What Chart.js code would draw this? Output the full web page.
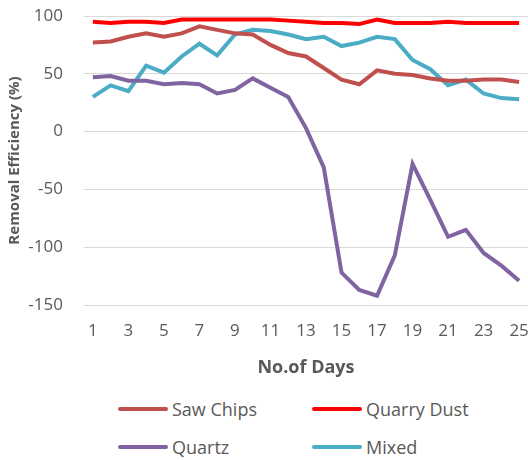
<!DOCTYPE html>
<html>
<head>
<meta charset="utf-8">
<script src="https://cdn.jsdelivr.net/npm/chart.js@4/dist/chart.umd.min.js"></script>
<style>
  body { margin: 0; background: #fff; font-family: "Open Sans", "Liberation Sans", sans-serif; }
  #wrap { position: relative; width: 528px; height: 460px; overflow: hidden; }
  #box { position: absolute; left: 0; top: 0; width: 528px; height: 392px; }
  #legend { position: absolute; left: 118px; top: 397px; width: 400px; display: grid;
            grid-template-columns: 194px 200px; row-gap: 14px; color: #595959; font-size: 18px; }
  .item { display: flex; align-items: center; height: 24px; }
  .swatch { width: 50px; height: 4px; border-radius: 2px; margin-right: 4px; }
</style>
</head>
<body>
<div id="wrap">
  <div id="box"><canvas id="graph"></canvas></div>
  <div id="legend"></div>
</div>
<script>
const days = [];
for (let d = 1; d <= 25; d++) days.push(String(d));

const sawChips   = [77, 78, 82, 85, 82, 85, 91, 88, 85, 84, 75, 68, 65, 55, 45, 41, 53, 50, 49, 46, 44, 44, 45, 45, 43];
const quarryDust = [95, 94, 95, 95, 94, 97, 97, 97, 97, 97, 97, 96, 95, 94, 94, 93, 97, 94, 94, 94, 95, 94, 94, 94, 94];
const quartz     = [47, 48, 44, 44, 41, 42, 41, 33, 36, 46, 38, 30, 3, -31, -122, -137, -142, -107, -28, -59, -91, -85, -105, -116, -129];
const mixed      = [30, 40, 35, 57, 51, 65, 76, 66, 84, 88, 87, 84, 80, 82, 74, 77, 82, 80, 62, 54, 40, 45, 33, 29, 28];

const seriesNames  = ["Saw Chips", "Quarry Dust", "Quartz", "Mixed"];
const seriesColors = ["#C0504D", "#FF0000", "#8064A2", "#4BACC6"];
const seriesData   = [sawChips, quarryDust, quartz, mixed];

const grey = "#595959";

const datasets = seriesNames.map((name, i) => ({
    label: name,
    data: seriesData[i],
    borderColor: seriesColors[i],
    backgroundColor: seriesColors[i],
    borderWidth: 4,
    pointRadius: 0,
    tension: 0,
    fill: false
}));

new Chart("graph", {
    type: "line",
    data: { labels: days, datasets: datasets },
    options: {
        responsive: true,
        maintainAspectRatio: false,
        animation: false,
        layout: { padding: 0 },
        plugins: {
            legend: { display: false },
            tooltip: { enabled: false }
        },
        scales: {
            x: {
                offset: true,
                grid: { display: false, drawTicks: false },
                border: { display: false },
                ticks: {
                    color: grey,
                    font: { family: "Open Sans", size: 17 },
                    autoSkip: false,
                    maxRotation: 0,
                    padding: 16,
                    callback: function(val, idx) { return idx % 2 === 0 ? this.getLabelForValue(val) : ""; }
                },
                title: {
                    display: true,
                    text: "No.of Days",
                    color: grey,
                    font: { family: "Open Sans", size: 18, weight: "bold" },
                    padding: { top: 0, bottom: 13 }
                },
                // fixed axis band, plot runs to the right edge
                afterFit: function(scale) {
                    scale.height = 87;
                    scale.paddingLeft = 0;
                    scale.paddingRight = 0;
                }
            },
            y: {
                min: -150,
                max: 100,
                ticks: {
                    stepSize: 50,
                    color: grey,
                    font: { family: "Open Sans", size: 17 },
                    padding: 21
                },
                grid: { color: "#D9D9D9", lineWidth: 1, drawTicks: false },
                border: { display: false },
                title: {
                    display: true,
                    text: "Removal Efficiency (%)",
                    color: grey,
                    font: { family: "Open Sans", size: 15, weight: "bold" },
                    padding: { top: 6, bottom: 2 }
                },
                afterFit: function(scale) {
                    scale.width = 84;
                    scale.paddingTop = 16;
                    scale.paddingBottom = 0;
                }
            }
        }
    }
});

// legend laid out in two columns under the chart
const legend = document.getElementById("legend");
seriesNames.forEach((name, i) => {
    const item = document.createElement("div");
    item.className = "item";
    item.innerHTML = '<span class="swatch" style="background:' + seriesColors[i] + '"></span>' + name;
    legend.appendChild(item);
});
</script>
</body>
</html>
